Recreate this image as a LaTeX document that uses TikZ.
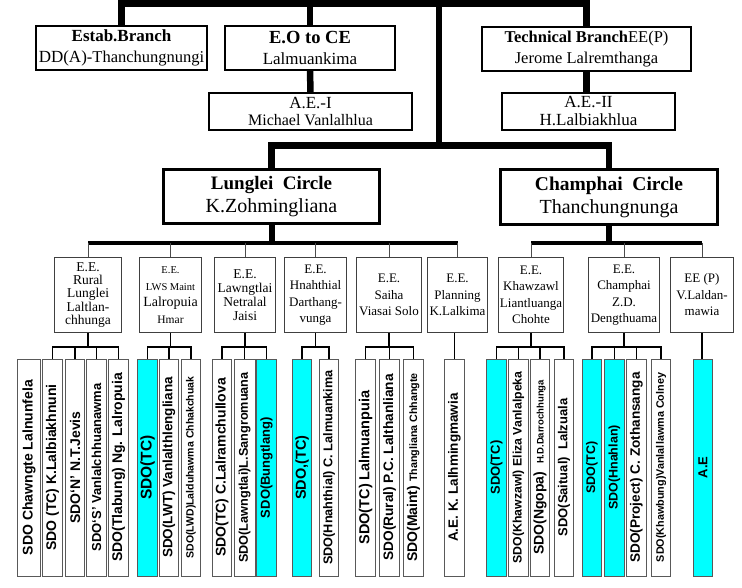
\documentclass[tikz,border=0pt]{standalone}
\usepackage{fontspec}
\setmainfont{Liberation Serif}
\setsansfont{Liberation Sans}
\definecolor{aqua}{RGB}{0,255,255}

\begin{document}
\begin{tikzpicture}[x=1pt,y=-1pt]
	\tikzstyle{topbox} = [rectangle, draw, line width=1.6pt, align=center, inner sep=1pt, font=\fontsize{17}{21}\selectfont]
	\tikzstyle{circlebox} = [rectangle, draw, line width=3pt, align=center, inner sep=1pt, font=\fontsize{20}{23}\selectfont]
	\tikzstyle{eebox} = [rectangle, draw=black!75, line width=0.8pt, minimum height=75pt, align=center, inner sep=1pt, font=\fontsize{13}{16.5}\selectfont]
	\tikzstyle{sdo} = [rectangle, draw=black!65, line width=0.9pt, rotate=90, inner sep=0pt, minimum width=217pt, minimum height=19.5pt, font=\sffamily\bfseries\fontsize{14}{14}\selectfont]
	\tikzstyle{sdotc} = [sdo, fill=aqua]
	\tikzstyle{trunk} = [line width=6.5pt]
	\tikzstyle{bus} = [line width=4pt]
	\tikzstyle{twig} = [draw=black!70, line width=0.8pt]
	\tikzstyle{branch} = [line width=1.8pt]
	\useasboundingbox (0,0) rectangle (742,588);

	\node[topbox, minimum width=171pt, minimum height=44pt] (estab) at (121.5,48) {\textbf{Estab.Branch}\\DD(A){\fontsize{16.5}{21}\selectfont -Thanchungnungi}};
	\node[topbox, minimum width=170pt, minimum height=44pt] (eo) at (310,48) {{\fontsize{18.5}{21}\selectfont\textbf{E.O to CE}}\\Lalmuankima};
	\node[topbox, minimum width=209pt, minimum height=44pt, font=\fontsize{16.5}{21}\selectfont] (tech) at (586.5,49) {\textbf{Technical Branch}EE(P)\\Jerome Lalremthanga};
	\node[topbox, minimum width=203pt, minimum height=37pt, font=\fontsize{16}{17.5}\selectfont] (ae1) at (310.5,111.5) {{\fontsize{17}{17.5}\selectfont A.E.-I}\\Michael Vanlalhlua};
	\node[topbox, minimum width=173pt, minimum height=37pt, font=\fontsize{17}{18}\selectfont] (ae2) at (588.5,111.5) {A.E.-II\\H.Lalbiakhlua};

	\node[circlebox, minimum width=216pt, minimum height=54pt] (lunglei) at (271.5,196.5) {{\fontsize{19}{23}\selectfont\textbf{Lunglei\ \ Circle}}\\K.Zohmingliana};
	\node[circlebox, minimum width=217pt, minimum height=55pt] (champhai) at (609,197) {{\fontsize{19.5}{23}\selectfont\textbf{Champhai\ \ Circle}}\\Thanchungnunga};

	\coordinate (trunktop) at (439,0);
	\coordinate (topbar) at (439,3.5);
	\coordinate (midbar) at (439,145.5);
	\coordinate (lbus) at (0,243);
	\coordinate (sbus) at (0,347);

	\draw[trunk] (estab.north) -- (estab.north |- topbar) -- (tech.north |- topbar) -- (tech.north);
	\draw[trunk] (eo.north) -- (eo.north |- topbar);
	\draw[trunk] (eo.south) -- (ae1.north);
	\draw[trunk] (tech.south) -- (tech.south |- ae2.north);
	\draw[trunk] (trunktop) -- (midbar);
	\draw[trunk] (lunglei.north) -- (lunglei.north |- midbar) -- (champhai.north |- midbar) -- (champhai.north);

	\node[eebox, minimum width=67pt, font=\fontsize{13.5}{13.3}\selectfont] (rural) at (88,295) {E.E.\\Rural\\Lunglei\\Laltlan-\\chhunga};
	\node[eebox, minimum width=62pt] (lws) at (170.5,295) {{\fontsize{10.5}{11}\selectfont E.E.}\\{\fontsize{10.5}{11}\selectfont LWS Maint}\\{\fontsize{14}{16}\selectfont Lalropuia}\\{\fontsize{11.5}{12}\selectfont Hmar}};
	\node[eebox, minimum width=61pt, font=\fontsize{13.5}{14}\selectfont] (lawngtlai) at (245,295) {E.E.\\Lawngtlai\\Netralal\\Jaisi};
	\node[eebox, minimum width=62pt] (hnahthial) at (315.5,295) {E.E.\\Hnahthial\\Darthang-\\vunga};
	\node[eebox, minimum width=65pt] (saiha) at (389,295) {E.E.\\Saiha\\Viasai Solo};
	\node[eebox, minimum width=60pt] (planning) at (457.5,295) {E.E.\\Planning\\K.Lalkima};
	\node[eebox, minimum width=65pt] (khawzawl) at (531,295) {E.E.\\Khawzawl\\Liantluanga\\Chohte};
	\node[eebox, minimum width=71pt] (champhaiee) at (624,295) {E.E.\\Champhai\\Z.D.\\Dengthuama};
	\node[eebox, minimum width=63pt] (eep) at (702,295) {EE (P)\\V.Laldan-\\mawia};

	\draw[trunk, line width=6pt] (lunglei.south) -- (lunglei.south |- lbus);
	\draw[trunk, line width=6pt] (champhai.south) -- (champhai.south |- lbus);
	\draw[bus] (rural.north |- lbus) -- (planning.north |- lbus);
	\draw[bus] (khawzawl.north |- lbus) -- (eep.north |- lbus);
	\foreach \n in {rural,lws,lawngtlai,hnahthial,saiha,planning,khawzawl,champhaiee,eep}
		\draw[twig] (\n.north |- lbus) -- (\n.north);

	\node[sdo, minimum height=23pt] (r1) at (29,467.5) {SDO Chawngte Lalnunfela};
	\node[sdo] (r2) at (52.5,467.5) {SDO (TC) K.Lalbiakhnuni};
	\node[sdo] (r3) at (75,467.5) {SDO‘N’ N.T.Jevis};
	\node[sdo] (r4) at (96.5,467.5) {\fontsize{13}{13}\selectfont SDO‘S’ Vanlalchhuanawma};
	\node[sdo] (r5) at (118.5,467.5) {SDO(Tlabung) Ng. Lalropuia};

	\node[sdotc] (w1) at (147.5,467.5) {\fontsize{15.5}{15}\selectfont SDO(TC)};
	\node[sdo] (w2) at (169,467.5) {\fontsize{13.5}{13}\selectfont SDO(LWT) Vanlalthlengliana};
	\node[sdo] (w3) at (191,467.5) {\fontsize{10.5}{11}\selectfont SDO(LWD)Lalduhawma Chhakchuak};

	\node[sdo] (l1) at (222,467.5) {SDO(TC) C.Lalramchullova};
	\node[sdo, minimum height=21pt] (l2) at (244.5,467.5) {\fontsize{12.7}{13}\selectfont SDO(Lawngtlai)L.Sangromuana};
	\node[sdotc] (l3) at (266.5,467.5) {\fontsize{13}{13}\selectfont SDO(Bungtlang)};

	\node[sdotc] (h1) at (302,467.5) {\fontsize{14.5}{14}\selectfont SDO,(TC)};
	\node[sdo] (h2) at (329,467.5) {\fontsize{12.7}{13}\selectfont SDO(Hnahthial) C. Lalmuankima};

	\node[sdo] (s1) at (365.5,467.5) {\fontsize{14.5}{14}\selectfont SDO(TC) Lalmuanpuia};
	\node[sdo] (s2) at (389.5,467.5) {\fontsize{13.7}{14}\selectfont SDO(Rural) P.C. Lalthanliana};
	\node[sdo] (s3) at (413.5,467.5) {SDO(Maint) {\fontsize{10.7}{11}\selectfont Thangliana Chhangte}};

	\node[sdo] (p1) at (454.5,467.5) {\fontsize{13.5}{13}\selectfont A.E. K. Lalhmingmawia};

	\node[sdotc] (k1) at (496.5,467.5) {\fontsize{13}{13}\selectfont SDO(TC)};
	\node[sdo] (k2) at (518.5,467.5) {\fontsize{12.3}{13}\selectfont SDO(Khawzawl) Eliza Vanlalpeka};
	\node[sdo] (k3) at (540,467.5) {SDO(Ngopa)\ \ {\fontsize{9.5}{10}\selectfont H.D.Darrochhunga}};
	\node[sdo] (k4) at (564,467.5) {\fontsize{13}{13}\selectfont SDO(Saitual)\ \ Lalzuala};

	\node[sdotc] (c1) at (592,467.5) {\fontsize{12.5}{13}\selectfont SDO(TC)};
	\node[sdotc] (c2) at (614.5,467.5) {\fontsize{12.5}{13}\selectfont SDO(Hnahlan)};
	\node[sdo] (c3) at (636.5,467.5) {\fontsize{13.6}{14}\selectfont SDO(Project) C. Zothansanga};
	\node[sdo] (c4) at (661,467.5) {\fontsize{10.8}{11}\selectfont SDO(Khawbung)Vanlallawma Colney};

	\node[sdotc] (e1) at (703,467.5) {\fontsize{13}{13}\selectfont A.E};

	\draw[branch] (rural.south) -- (rural.south |- sbus);
	\draw[branch] (r2.east) -- (r2.east |- sbus) -- (r5.east |- sbus) -- (r5.east);
	\foreach \s in {r3,r4} \draw[branch] (\s.east |- sbus) -- (\s.east);

	\draw[branch] (lws.south) -- (lws.south |- sbus);
	\draw[branch] (w1.east) -- (w1.east |- sbus) -- (w3.east |- sbus) -- (w3.east);
	\draw[branch] (w2.east |- sbus) -- (w2.east);

	\draw[branch] (lawngtlai.south) -- (lawngtlai.south |- sbus);
	\draw[branch] (l1.east) -- (l1.east |- sbus) -- (l3.east |- sbus) -- (l3.east);
	\draw[branch] (l2.east |- sbus) -- (l2.east);

	\draw[branch] (hnahthial.south) -- (hnahthial.south |- sbus);
	\draw[branch] (h1.east) -- (h1.east |- sbus) -- (h2.east |- sbus) -- (h2.east);

	\draw[branch] (saiha.south) -- (saiha.south |- sbus);
	\draw[branch] (s1.east) -- (s1.east |- sbus) -- (s3.east |- sbus) -- (s3.east);
	\draw[branch] (s2.east |- sbus) -- (s2.east);

	\draw[branch] (planning.south -| p1.east) -- (p1.east);

	\draw[branch] (khawzawl.south) -- (khawzawl.south |- sbus);
	\draw[branch] (k1.east) -- (k1.east |- sbus) -- (k4.east |- sbus) -- (k4.east);
	\foreach \s in {k2,k3} \draw[branch] (\s.east |- sbus) -- (\s.east);

	\draw[branch] (champhaiee.south) -- (champhaiee.south |- sbus);
	\draw[branch] (c1.east) -- (c1.east |- sbus) -- (c4.east |- sbus) -- (c4.east);
	\foreach \s in {c2,c3} \draw[branch] (\s.east |- sbus) -- (\s.east);

	\draw[branch] (eep.south) -- (eep.south |- e1.east);
\end{tikzpicture}
\end{document}
